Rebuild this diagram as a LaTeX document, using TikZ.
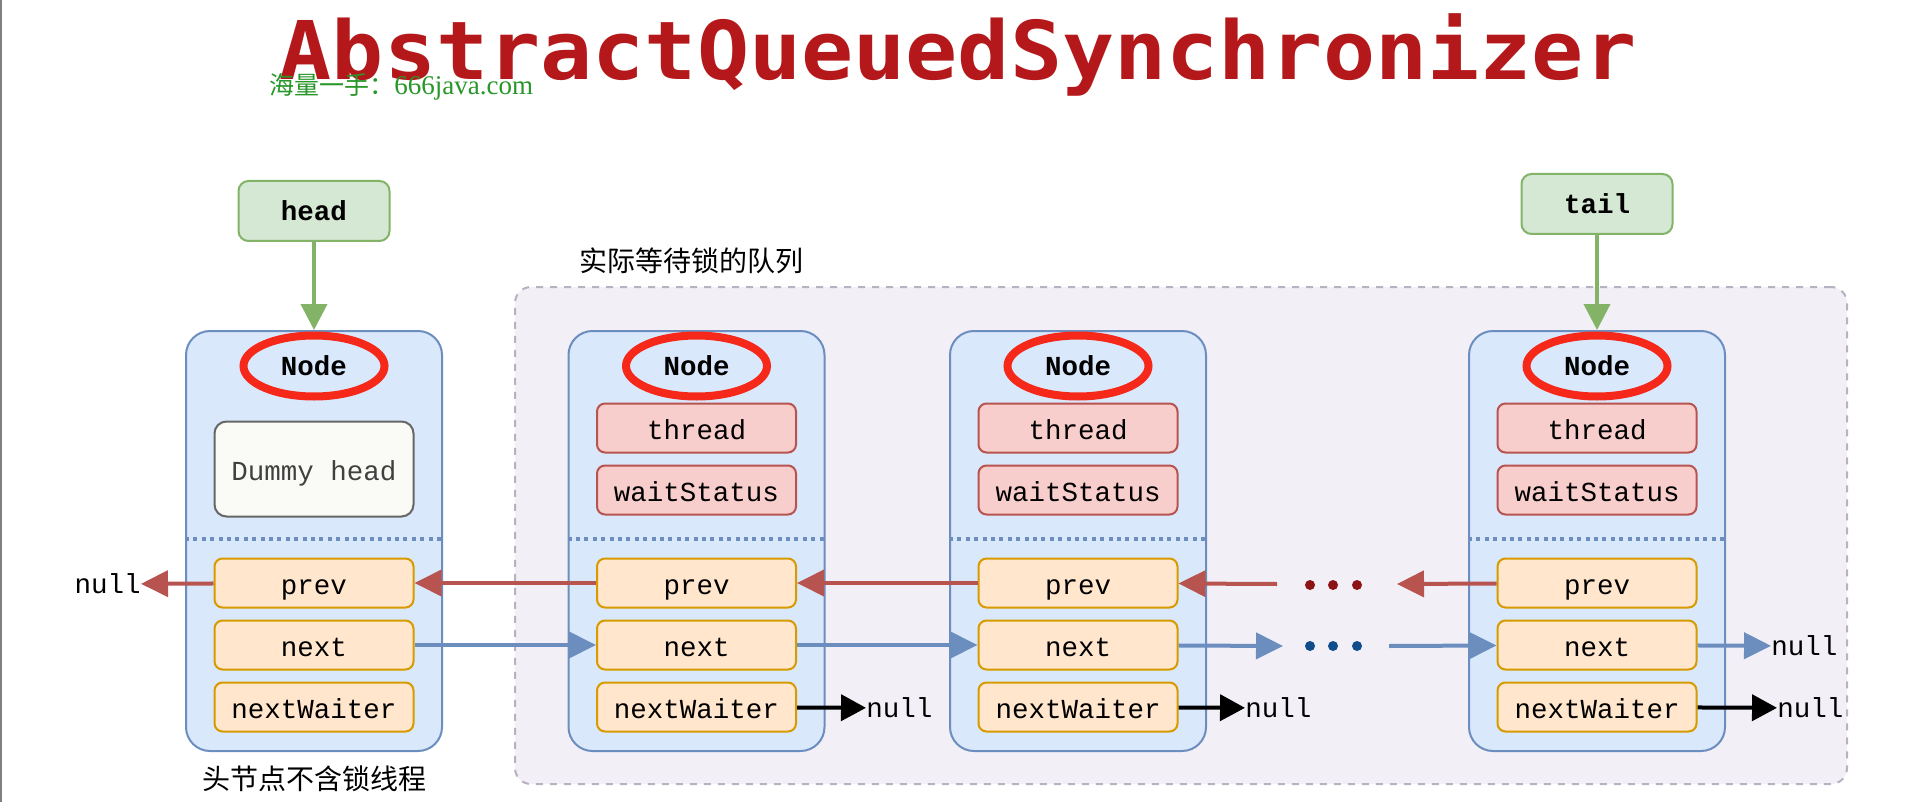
\documentclass[tikz,border=0pt]{standalone}
\usepackage{fontspec}
\setmonofont{Liberation Mono}
\newfontfamily\titlefont{DejaVu Sans Mono}
\newfontfamily\cjk{Noto Sans CJK SC}
\newfontfamily\wmfont{Liberation Serif}
\usetikzlibrary{arrows.meta,shapes.geometric}

\definecolor{nodefill}{HTML}{DAE8FC}
\definecolor{nodeline}{HTML}{6C8EBF}
\definecolor{fldfill}{HTML}{FFE6CC}
\definecolor{fldline}{HTML}{D79B00}
\definecolor{rffill}{HTML}{F8CECC}
\definecolor{rfline}{HTML}{B85450}
\definecolor{ptrfill}{HTML}{D5E8D4}
\definecolor{ptrline}{HTML}{82B366}
\definecolor{dumfill}{HTML}{FAFAF6}
\definecolor{dumline}{HTML}{666666}
\definecolor{qfill}{HTML}{F2EFF6}
\definecolor{qline}{HTML}{B8B1C2}
\definecolor{ovalred}{RGB}{245,40,25}
\definecolor{prevred}{HTML}{B85450}
\definecolor{nextblue}{HTML}{6C8EBF}
\definecolor{dotred}{RGB}{140,20,20}
\definecolor{dotblue}{RGB}{16,76,140}
\definecolor{titlered}{RGB}{180,24,26}
\definecolor{wmgreen}{RGB}{40,150,40}

\begin{document}
\begin{tikzpicture}[
            x=0.5pt, y=-0.5pt,
            nd/.style={draw=nodeline,fill=nodefill,line width=1pt,rounded corners=12pt,minimum width=128pt,minimum height=210pt},
            fld/.style={draw=fldline,fill=fldfill,line width=1pt,rounded corners=4pt,minimum width=99.5pt,minimum height=24.5pt,inner sep=0pt,text height=11pt,text depth=0pt,font=\ttfamily\fontsize{13.75}{16}\selectfont},
            rf/.style={fld,draw=rfline,fill=rffill},
            dum/.style={fld,draw=dumline,fill=dumfill,minimum height=47.5pt,rounded corners=6pt,text=black!75},
            ptr/.style={draw=ptrline,fill=ptrfill,line width=1pt,rounded corners=5pt,minimum width=75.5pt,minimum height=30pt,font=\ttfamily\bfseries\fontsize{13.75}{16}\selectfont},
            oval/.style={ellipse,draw=ovalred,line width=4pt,minimum width=70.5pt,minimum height=30.5pt,inner sep=0pt,font=\ttfamily\bfseries\fontsize{13.75}{16}\selectfont},
            queue/.style={draw=qline,fill=qfill,line width=1pt,dash pattern=on 3.5pt off 3.5pt,rounded corners=8pt,minimum width=666pt,minimum height=248.5pt},
            sep/.style={draw=nodeline,line width=2pt,dash pattern=on 2pt off 2.2pt},
            nul/.style={inner sep=0pt,font=\ttfamily\fontsize{13.75}{16}\selectfont},
            cn/.style={font=\cjk\fontsize{14}{16}\selectfont},
            pa/.style={-{Triangle[length=13.5pt,width=13pt]},line width=2pt,color=prevred},
            na/.style={pa,color=nextblue},
            wa/.style={-{Triangle[length=12.5pt,width=13pt]},line width=2pt,color=black},
            ga/.style={-{Triangle[length=13pt,width=13pt]},line width=2pt,color=ptrline},
        ]

        \tikzset{
            node distance=31pt,
        }

        \useasboundingbox (0,0) rectangle (1920,802);
        \draw[gray,line width=1pt] (1,0) -- (1,802);

        \node[anchor=base,text=titlered,font=\titlefont\bfseries\fontsize{40.5}{48}\selectfont] (title) at (958,80) {\scalebox{1.07}[1]{AbstractQueuedSynchronizer}};
        \node[anchor=base west,inner sep=0pt,text=wmgreen] (wm) at (269,95) {\cjk\fontsize{12.5}{14}\selectfont 海量一手：\wmfont\fontsize{13.5}{14}\selectfont 666java.com};

        % queue area
        \node[queue] (queue) at (1181,535.5) {};
        \node[cn,anchor=west] (qlabel) at (572,261) {实际等待锁的队列};

        % head node
        \node[nd] (n1) at (314,541) {};
        \node[oval] (o1) at ([yshift=-18pt]n1.north) {Node};
        \node[dum,below of=o1,yshift=-20.5pt] (d1) {Dummy head};
        \node[fld,below of=d1,yshift=-26pt] (p1) {prev};
        \node[fld,below of=p1] (x1) {next};
        \node[fld,below of=x1] (w1) {nextWaiter};
        \node[cn] (cap) at (314,779) {头节点不含锁线程};

        % waiting nodes
        \node[nd] (n2) at (696.5,541) {};
        \node[oval] (o2) at ([yshift=-18pt]n2.north) {Node};
        \node[rf,below of=o2] (t2) {thread};
        \node[rf,below of=t2] (s2) {waitStatus};
        \node[fld,below of=s2,yshift=-15.5pt] (p2) {prev};
        \node[fld,below of=p2] (x2) {next};
        \node[fld,below of=x2] (w2) {nextWaiter};

        \node[nd] (n3) at (1078,541) {};
        \node[oval] (o3) at ([yshift=-18pt]n3.north) {Node};
        \node[rf,below of=o3] (t3) {thread};
        \node[rf,below of=t3] (s3) {waitStatus};
        \node[fld,below of=s3,yshift=-15.5pt] (p3) {prev};
        \node[fld,below of=p3] (x3) {next};
        \node[fld,below of=x3] (w3) {nextWaiter};

        \node[nd] (n4) at (1597,541) {};
        \node[oval] (o4) at ([yshift=-18pt]n4.north) {Node};
        \node[rf,below of=o4] (t4) {thread};
        \node[rf,below of=t4] (s4) {waitStatus};
        \node[fld,below of=s4,yshift=-15.5pt] (p4) {prev};
        \node[fld,below of=p4] (x4) {next};
        \node[fld,below of=x4] (w4) {nextWaiter};

        \draw[sep] ([yshift=1pt]n1.west) -- ([yshift=1pt]n1.east);
        \draw[sep] ([yshift=1pt]n2.west) -- ([yshift=1pt]n2.east);
        \draw[sep] ([yshift=1pt]n3.west) -- ([yshift=1pt]n3.east);
        \draw[sep] ([yshift=1pt]n4.west) -- ([yshift=1pt]n4.east);

        % pointers
        \node[ptr] (head) at (314,211) {head};
        \node[ptr] (tail) at (1597,204) {tail};
        \draw[ga] (head) -- (n1);
        \draw[ga] (tail) -- (n4);

        \node[nul,anchor=east] (nullp) at (141,584) {null};
        \node[nul,anchor=west] (null2) at (866,708) {null};
        \node[nul,anchor=west] (null3) at (1245,708) {null};
        \node[nul,anchor=west] (nullx) at (1771,646) {null};
        \node[nul,anchor=west] (null4) at (1777,708) {null};

        \coordinate (rfrom) at (1277,584);
        \coordinate (rto) at (1397,584);
        \coordinate (bto) at (1283,646);
        \coordinate (bfrom) at (1389,646);

        % prev links
        \draw[pa] (p1) -- (nullp);
        \draw[pa] (p2) -- (p1);
        \draw[pa] (p3) -- (p2);
        \draw[pa] (rfrom) -- (p3);
        \draw[pa] (p4) -- (rto);
        % next links
        \draw[na] (x1) -- (x2);
        \draw[na] (x2) -- (x3);
        \draw[na] (x3) -- (bto);
        \draw[na] (bfrom) -- (x4);
        \draw[na] (x4) -- (nullx);
        % nextWaiter links
        \draw[wa] (w2) -- (null2);
        \draw[wa] (w3) -- (null3);
        \draw[wa] (w4) -- (null4);

        \foreach \x in {1310,1333,1357} {
            \fill[dotred] (\x,585) circle[radius=2.5pt];
            \fill[dotblue] (\x,646) circle[radius=2.5pt];
        }

\end{tikzpicture}
\end{document}
